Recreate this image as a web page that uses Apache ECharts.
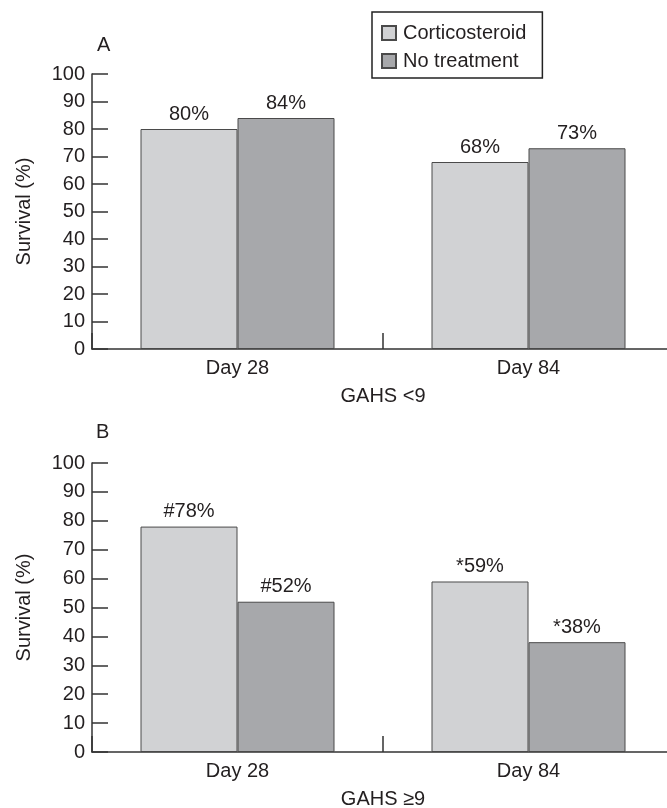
<!DOCTYPE html>
<html>
<head>
<meta charset="utf-8">
<script src="https://cdn.jsdelivr.net/npm/echarts@6/dist/echarts.min.js"></script>
<style>
html,body{margin:0;padding:0;background:#fff;}
#chart{width:667px;height:808px;}
</style>
</head>
<body>
<div id="chart"></div>
<script>
var categories = ['Day 28', 'Day 84'];
var seriesNames = ['Corticosteroid', 'No treatment'];
var corticoA = [80, 68];
var noTreatA = [84, 73];
var corticoB = [78, 59];
var noTreatB = [52, 38];
var prefixCorticoB = ['#', '*'];
var prefixNoTreatB = ['#', '*'];
var yTicks = [0, 10, 20, 30, 40, 50, 60, 70, 80, 90, 100];
var panelNames = ['GAHS <9', 'GAHS \u22659'];

var FONT = '"Liberation Sans", Arial, sans-serif';
var TXT = '#231f20';
var LIGHT = '#d1d2d4';
var DARK = '#a7a8ab';
var EDGE = '#4a4a4a';

var chart = echarts.init(document.getElementById('chart'));

function xAx(gi, name) {
  return {
    type: 'category', gridIndex: gi, data: categories, boundaryGap: true,
    name: name, nameLocation: 'middle', nameGap: 37,
    nameTextStyle: {fontFamily: FONT, fontSize: 20, color: TXT},
    axisLine: {lineStyle: {color: '#333', width: 1.5}},
    axisTick: {show: true, interval: 0, alignWithLabel: false, inside: true, length: 16, lineStyle: {color: '#333', width: 1.5}},
    axisLabel: {interval: 0, fontFamily: FONT, fontSize: 20, color: TXT, margin: 9},
    splitLine: {show: false}
  };
}
function yAx(gi) {
  return {
    type: 'value', gridIndex: gi, min: yTicks[0], max: yTicks[yTicks.length - 1], interval: 10,
    name: 'Survival (%)', nameLocation: 'middle', nameGap: 58, nameRotate: 90,
    nameTextStyle: {fontFamily: FONT, fontSize: 20, color: TXT},
    axisLine: {show: true, lineStyle: {color: '#333', width: 1.5}},
    axisTick: {show: true, inside: true, length: 16, lineStyle: {color: '#333', width: 1.5}},
    axisLabel: {fontFamily: FONT, fontSize: 20, color: TXT, margin: 7},
    splitLine: {show: false}
  };
}
function barSeries(name, data, xi, color, prefixes) {
  return {
    name: name, type: 'bar', xAxisIndex: xi, yAxisIndex: xi, data: data,
    barWidth: 97, barGap: '0%',
    itemStyle: {color: color, borderColor: EDGE, borderWidth: 1},
    label: {
      show: true, position: 'top', distance: 5,
      fontFamily: FONT, fontSize: 20, color: TXT,
      formatter: function (p) { return (prefixes ? prefixes[p.dataIndex] : '') + p.value + '%'; }
    }
  };
}

chart.setOption({
  animation: false,
  backgroundColor: '#fff',
  title: [
    {text: 'A', left: 97, top: 35, padding: 0, textStyle: {fontFamily: FONT, fontSize: 20, fontWeight: 'normal', color: TXT}},
    {text: 'B', left: 96, top: 422, padding: 0, textStyle: {fontFamily: FONT, fontSize: 20, fontWeight: 'normal', color: TXT}}
  ],
  legend: {
    orient: 'vertical', left: 372, top: 12, width: 171,
    data: seriesNames,
    borderColor: '#222', borderWidth: 1.5,
    padding: [11, 16, 7, 9],
    itemWidth: 14, itemHeight: 14, itemGap: 8,
    icon: 'rect',
    textStyle: {fontFamily: FONT, fontSize: 20, color: TXT, padding: [0, 0, 0, 2]}
  },
  grid: [
    {left: 92, top: 74, width: 582, height: 275, outerBoundsMode: 'none', containLabel: false},
    {left: 92, top: 463, width: 582, height: 289, outerBoundsMode: 'none', containLabel: false}
  ],
  xAxis: [xAx(0, panelNames[0]), xAx(1, panelNames[1])],
  yAxis: [yAx(0), yAx(1)],
  series: [
    barSeries(seriesNames[0], corticoA, 0, LIGHT, null),
    barSeries(seriesNames[1], noTreatA, 0, DARK, null),
    barSeries(seriesNames[0], corticoB, 1, LIGHT, prefixCorticoB),
    barSeries(seriesNames[1], noTreatB, 1, DARK, prefixNoTreatB)
  ]
});
</script>
</body>
</html>
